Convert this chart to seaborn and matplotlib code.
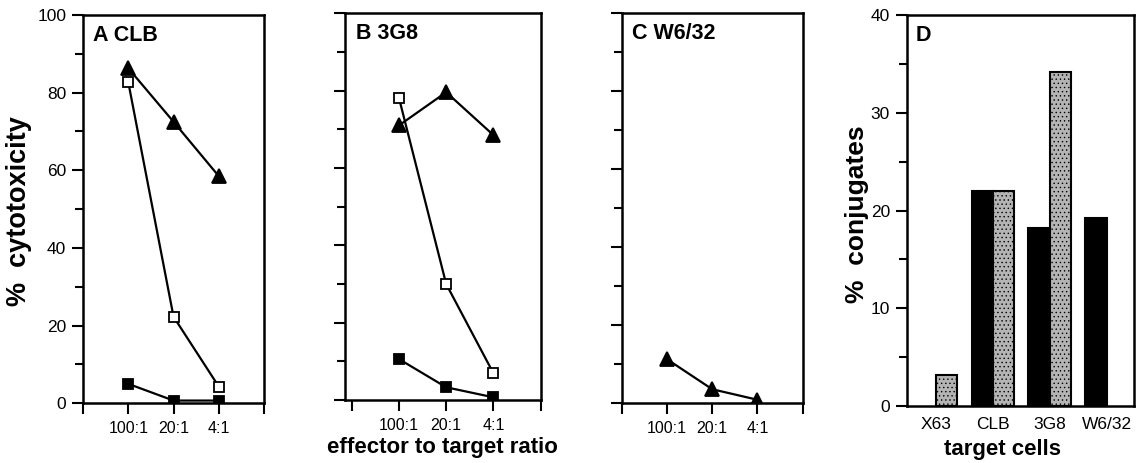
import numpy as np
import pandas as pd
import matplotlib
matplotlib.use("Agg")
import matplotlib.pyplot as plt
from matplotlib.ticker import MultipleLocator
import seaborn as sns

# Data
ratios = ["100:1", "20:1", "4:1"]
ratio_pos = [1, 2, 3]

clb_triangle = [86.3, 72.5, 58.5]
clb_open_sq = [82.7, 22.3, 4.3]
clb_filled_sq = [5.0, 0.7, 0.7]

g8_triangle = [71.0, 79.6, 68.5]
g8_open_sq = [78.2, 30.0, 6.9]
g8_filled_sq = [10.6, 3.3, 0.7]

w6_triangle = [11.3, 3.6, 0.9]

target_cells = ["X63", "CLB", "3G8", "W6/32"]
conj_black = [np.nan, 22.0, 18.2, 19.2]
conj_grey = [3.2, 22.0, 34.2, np.nan]

sns.set_style("ticks")
plt.rcParams["font.family"] = ["Liberation Sans", "DejaVu Sans"]
plt.rcParams["axes.linewidth"] = 1.8
plt.rcParams["hatch.linewidth"] = 0.5
for key in ["text.color", "axes.labelcolor", "xtick.color", "ytick.color", "axes.edgecolor"]:
    plt.rcParams[key] = "black"

fig = plt.figure(figsize=(11.36, 4.63), dpi=100)

panels = [
    ("A CLB", [0.0731, 0.1290, 0.1593, 0.8386], 0.0,
     [(clb_triangle, "^", "black"), (clb_open_sq, "s", "white"), (clb_filled_sq, "s", "black")]),
    ("B 3G8", [0.3037, 0.1360, 0.1723, 0.8352], -0.14,
     [(g8_triangle, "^", "black"), (g8_open_sq, "s", "white"), (g8_filled_sq, "s", "black")]),
    ("C W6/32", [0.5473, 0.1290, 0.1593, 0.8422], 0.0,
     [(w6_triangle, "^", "black")]),
]

for i, (title, rect, xleft, series) in enumerate(panels):
    ax = fig.add_axes(rect)
    for vals, mk, face in series:
        df = pd.DataFrame({"pos": ratio_pos, "val": vals})
        sns.lineplot(data=df, x="pos", y="val", ax=ax, color="black", lw=1.6,
                     marker=mk, markersize=9.5 if mk == "^" else 7.5,
                     markerfacecolor=face, markeredgecolor="black",
                     markeredgewidth=1.3, zorder=3)
    ax.set_xlim(xleft, 4)
    ax.set_ylim(0, 100)
    ax.set_xticks([0, 1, 2, 3, 4])
    ax.set_xticklabels([""] + ratios + [""])
    ax.yaxis.set_major_locator(MultipleLocator(20))
    ax.yaxis.set_minor_locator(MultipleLocator(10))
    ax.tick_params(axis="both", which="major", direction="out", length=8, width=1.5, pad=4)
    ax.tick_params(axis="y", which="minor", direction="out", length=6, width=1.5)
    ax.tick_params(axis="x", pad=5, labelsize=11.5)
    if i == 0:
        ax.tick_params(axis="y", labelsize=12.5)
        ax.set_ylabel("%  cytotoxicity", fontsize=19.5, fontweight="bold")
        ax.yaxis.set_label_coords(-0.28, 0.494)
    else:
        ax.set_yticklabels([])
        ax.set_ylabel("")
    if i == 1:
        ax.set_xlabel("effector to target ratio", fontsize=16, fontweight="bold", labelpad=3)
    else:
        ax.set_xlabel("")
    ax.text(0.055, 0.975, title, transform=ax.transAxes, ha="left", va="top",
            fontsize=15.5, fontweight="bold")
    for s in ax.spines.values():
        s.set_visible(True)
        s.set_linewidth(1.8)

# Panel D: conjugates bar chart
axd = fig.add_axes([0.7981, 0.1231, 0.2005, 0.8445])
bar_df = pd.DataFrame({
    "cells": target_cells * 2,
    "group": ["black"] * 4 + ["grey"] * 4,
    "value": conj_black + conj_grey,
}).dropna()
sns.barplot(data=bar_df, x="cells", y="value", hue="group", order=target_cells,
            hue_order=["black", "grey"], palette={"black": "black", "grey": "#b4b4b4"},
            width=0.74, dodge=True, ax=axd, edgecolor="black", linewidth=1.5,
            legend=False, errorbar=None)
for patch in axd.patches:
    if patch.get_facecolor()[0] > 0.5:
        patch.set_hatch("....")
axd.set_xlim(-0.51, 3.49)
axd.set_ylim(0, 40)
axd.yaxis.set_major_locator(MultipleLocator(10))
axd.yaxis.set_minor_locator(MultipleLocator(5))
axd.tick_params(axis="y", which="major", direction="out", length=8, width=1.5, pad=4, labelsize=12.5)
axd.tick_params(axis="y", which="minor", direction="out", length=6, width=1.5)
axd.tick_params(axis="x", length=0, pad=8, labelsize=12.5)
axd.set_ylabel("%  conjugates", fontsize=19, fontweight="bold")
axd.yaxis.set_label_coords(-0.165, 0.49)
axd.set_xlabel("target cells", fontsize=16, fontweight="bold")
axd.xaxis.set_label_coords(0.42, -0.085)
axd.text(0.04, 0.975, "D", transform=axd.transAxes, ha="left", va="top",
         fontsize=15.5, fontweight="bold")
for s in axd.spines.values():
    s.set_visible(True)
    s.set_linewidth(1.8)

fig.savefig("out.png", dpi=100)
